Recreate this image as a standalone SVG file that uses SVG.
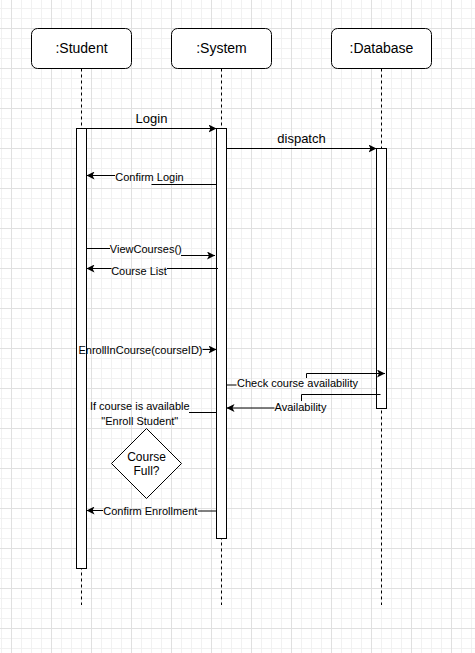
<svg xmlns="http://www.w3.org/2000/svg" width="475" height="653" viewBox="0 0 475 653">
<defs>
<pattern id="grid" x="11" y="28" width="40" height="40" patternUnits="userSpaceOnUse">
<rect x="0" y="0" width="40" height="40" fill="#ffffff"/>
<g fill="#f1f1f1">
<rect x="10" y="0" width="1" height="40"/><rect x="20" y="0" width="1" height="40"/><rect x="30" y="0" width="1" height="40"/>
<rect x="0" y="10" width="40" height="1"/><rect x="0" y="20" width="40" height="1"/><rect x="0" y="30" width="40" height="1"/>
</g>
<g fill="#e0e0e0">
<rect x="0" y="0" width="1" height="40"/><rect x="0" y="0" width="40" height="1"/>
</g>
</pattern>
<marker id="arr" viewBox="0 0 8 8" refX="8" refY="4" markerWidth="8" markerHeight="8" markerUnits="userSpaceOnUse" orient="auto">
<path d="M0,0 L8,4 L0,8 L2,4 z" fill="#000"/>
</marker>
</defs>
<style>
.head{fill:#fff;stroke:#000;stroke-width:1}
.life{stroke:#000;stroke-width:1;stroke-dasharray:3 3;fill:none}
.bar{fill:#fff;stroke:#000;stroke-width:1}
.msg{stroke:#000;stroke-width:1;fill:none}
.arrow{marker-end:url(#arr)}
text{font-family:"Liberation Sans",Arial,sans-serif;fill:#000;text-anchor:middle}
.t14{font-size:14px}
.t13{font-size:13px}
.t11{font-size:11px}
.t12{font-size:12px}
</style>
<rect x="0" y="0" width="475" height="653" fill="url(#grid)"/>

<g id="lifelines">
<line class="life" x1="81.5" y1="68.5" x2="81.5" y2="605"/>
<line class="life" x1="221.5" y1="68.5" x2="221.5" y2="605"/>
<line class="life" x1="381.5" y1="68.5" x2="381.5" y2="605"/>
</g>

<g id="student">
<rect class="head" x="31.5" y="28.5" width="100" height="40" rx="6"/>
<text class="t14" x="81.5" y="52.5">:Student</text>
</g>
<g id="system">
<rect class="head" x="171.5" y="28.5" width="100" height="40" rx="6"/>
<text class="t14" x="221.5" y="52.5">:System</text>
</g>
<g id="database">
<rect class="head" x="331.5" y="28.5" width="100" height="40" rx="6"/>
<text class="t14" x="381.5" y="52.5">:Database</text>
</g>

<g id="student-activation"><rect class="bar" x="76.5" y="128.5" width="10" height="440"/></g>
<g id="system-activation"><rect class="bar" x="216.5" y="128.5" width="10" height="410"/></g>
<g id="database-activation"><rect class="bar" x="376.5" y="148.5" width="10" height="260"/></g>

<g id="decision">
<polygon points="146.5,428.5 181.5,463.5 146.5,498.5 111.5,463.5" fill="#fff" stroke="#000" stroke-width="1"/>
<text class="t12" x="146.5" y="460.5">Course</text>
<text class="t12" x="146.5" y="474.5">Full?</text>
</g>

<g id="connectors">
<path class="msg arrow" d="M86.5,128.5 H216.5"/>
<path class="msg arrow" d="M226.5,148.5 H376.5"/>
<path class="msg" d="M216.5,184.5 H151.5"/>
<path class="msg arrow" d="M115,175.5 H86.5"/>
<path class="msg" d="M86.5,248.5 H110"/>
<path class="msg arrow" d="M181,255.5 H215"/>
<path class="msg" d="M218,268.5 H167"/>
<path class="msg arrow" d="M111.5,268.5 H86.5"/>
<path class="msg arrow" d="M202.5,349.5 H216.5"/>
<path class="msg" d="M226.5,385 H236.5"/>
<path class="msg arrow" d="M306.5,378 V373.5 H385"/>
<path class="msg" d="M380.5,394.5 H301.5 V401"/>
<path class="msg arrow" d="M274.5,408 H226.5"/>
<path class="msg" d="M189,412.5 H216.5"/>
<path class="msg" d="M216.5,511 H198"/>
<path class="msg arrow" d="M103,510.5 H86.5"/>
</g>

<g id="labels">
<text class="t13" x="151.5" y="123">Login</text>
<text class="t13" x="301.5" y="143">dispatch</text>
<text class="t11" x="149.5" y="180.5">Confirm Login</text>
<text class="t11" x="145.8" y="253">ViewCourses()</text>
<text class="t11" x="139" y="275">Course List</text>
<text class="t11" x="140.5" y="353.5">EnrollInCourse(courseID)</text>
<text class="t11" x="297.5" y="386.5">Check course availability</text>
<text class="t11" x="300.5" y="411">Availability</text>
<text class="t11" x="139.8" y="410">If course is available</text>
<text class="t11" x="139.8" y="424.5">"Enroll Student"</text>
<text class="t11" x="150.3" y="515">Confirm Enrollment</text>
</g>
</svg>
